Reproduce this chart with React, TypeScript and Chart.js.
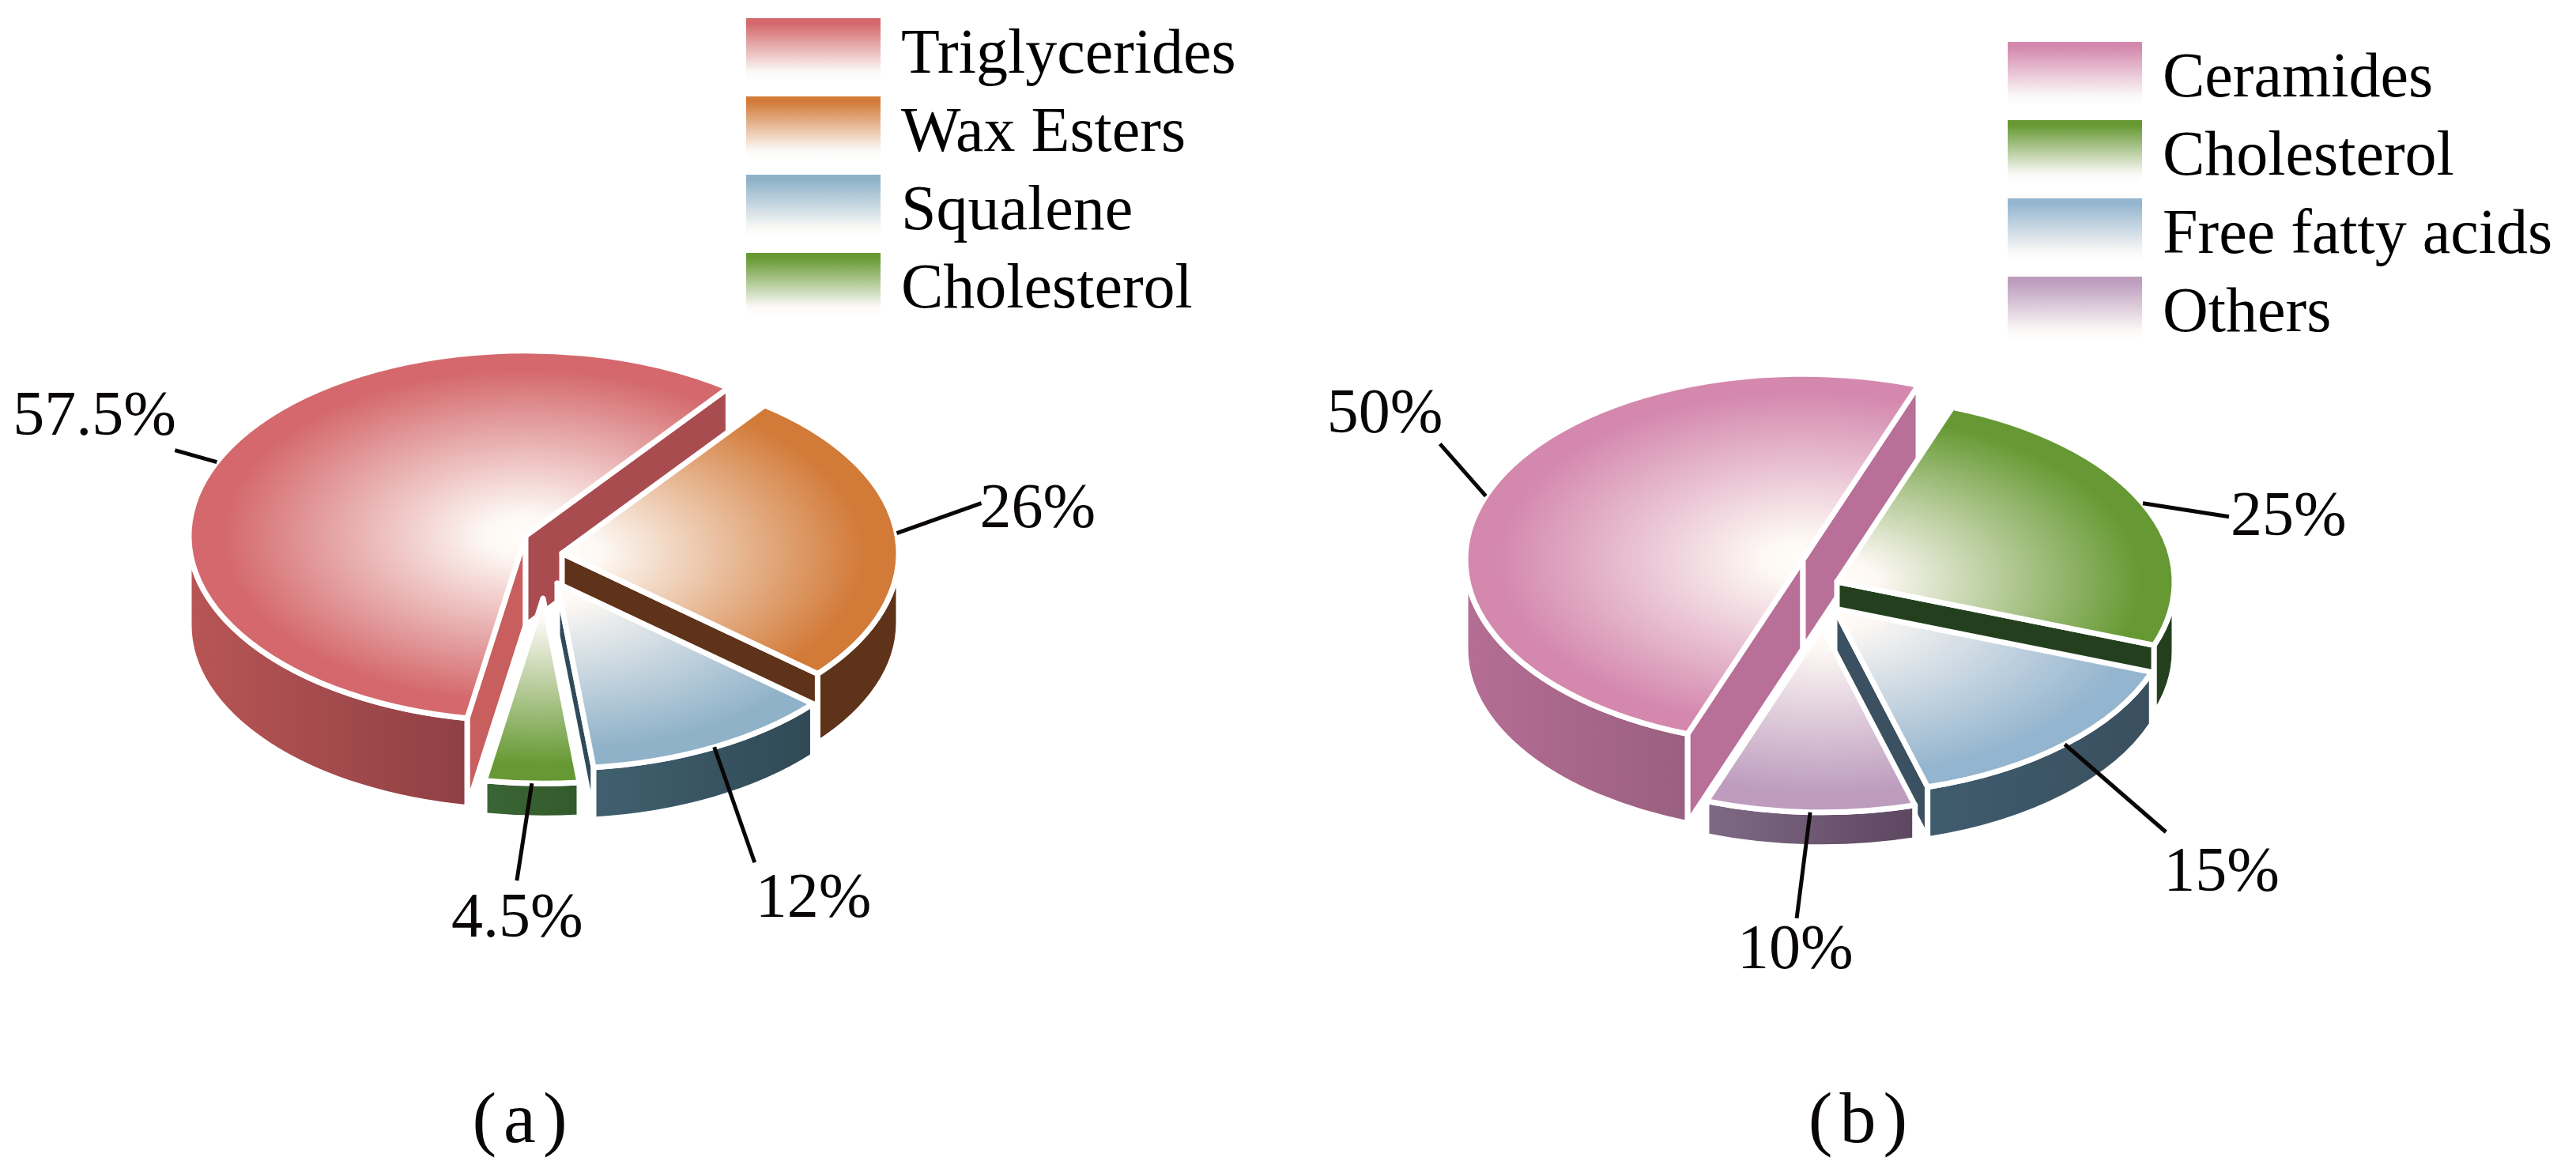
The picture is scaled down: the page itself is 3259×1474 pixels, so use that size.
import React, { useEffect, useRef } from "react";
import { Chart, PieController, registerables } from "chart.js";

// ---- data ----
const lipidLabelsA = ["Triglycerides", "Wax Esters", "Squalene", "Cholesterol"];
const lipidValuesA = [57.5, 26, 12, 4.5];
const lipidLabelsB = ["Ceramides", "Cholesterol", "Free fatty acids", "Others"];
const lipidValuesB = [50, 25, 15, 10];
const captionA = "(a)";
const captionB = "(b)";

// ---- style ----
const FONT = '"Liberation Serif"';
const TILT = 0.55;
const STROKE = 7;
const CANVAS_H = 1474;

const styleA = {
  width: 1630, left: 0, center: [665, 678], radius: 426, rotation: 190, legend: [939, 12], caption: [662, 1445],
  top: ["#d4686c", "#d27a38", "#8fb2c9", "#669933"],
  wallFrom: ["#b85555", "#5f3319", "#41606f", "#3a6535"],
  wallTo: ["#8f4044", "#5f3319", "#304955", "#335a2a"],
  cutStart: ["#c85e5e", "#5f3319", "#2f4b5a", "#3a6535"],
  cutEnd: ["#a84c50", "#5f3319", "#2f4b5a", "#3a6535"],
  shift: [[0, 0], [46, 22], [40, 60], [22, 79]],
  depth: [113, 88, 66, 44],
  leader: [[-53, -15], [107, -38], [51, 146], [-19, 123]],
  text: [[-205, -20], [-2, 30], [1, 69], [-83, 71]],
};
const styleB = {
  width: 1629, left: 1630, center: [651, 708], radius: 427, rotation: 200, legend: [905, 42], caption: [725, 1445],
  top: ["#d488ae", "#669933", "#94b5cf", "#bd9cbe"],
  wallFrom: ["#b56e94", "#243f1e", "#3f5c6e", "#7f6a85"],
  wallTo: ["#9a5f80", "#243f1e", "#3a4f5e", "#5d4660"],
  cutStart: ["#b86f98", "#243f1e", "#3b5060", "#7f6a85"],
  cutEnd: ["#b86f98", "#243f1e", "#3b5060", "#7f6a85"],
  shift: [[0, 0], [43, 28], [40, 62], [24, 85]],
  depth: [113, 88, 66, 44],
  leader: [[-58, -66], [109, 17], [128, 111], [-17, 134]],
  text: [[-143, -15], [2, 23], [-3, 74], [-75, 63]],
};

const TAU = Math.PI * 2;

function visibleRange(s: number, e: number) {
  // angles of the slice whose rim faces the viewer (sin > 0)
  const out: number[][] = [];
  for (let k = -2; k <= 2; k++) {
    const a = Math.max(s, k * TAU);
    const b = Math.min(e, k * TAU + Math.PI);
    if (b > a) out.push([a, b]);
  }
  return out;
}

function faceStroke(ctx: CanvasRenderingContext2D) {
  ctx.strokeStyle = "#fff";
  ctx.lineWidth = STROKE;
  ctx.lineJoin = "round";
  ctx.stroke();
}

function drawSlice(ctx: CanvasRenderingContext2D, arc: any, st: any, i: number) {
  const r = arc.outerRadius;
  const ry = r * TILT;
  const cx = arc.x + st.shift[i][0];
  const cy = arc.y + st.shift[i][1];
  const s = arc.startAngle;
  const e = arc.endAngle;
  const d = st.depth[i];
  const px = (a: number) => cx + r * Math.cos(a);
  const py = (a: number) => cy + ry * Math.sin(a);

  const cut = (a: number, color: string) => {
    ctx.beginPath();
    ctx.moveTo(cx, cy);
    ctx.lineTo(px(a), py(a));
    ctx.lineTo(px(a), py(a) + d);
    ctx.lineTo(cx, cy + d);
    ctx.closePath();
    ctx.fillStyle = color;
    ctx.fill();
    faceStroke(ctx);
  };
  if (Math.cos(s) < 0) cut(s, st.cutStart[i]);
  if (Math.cos(e) > 0) cut(e, st.cutEnd[i]);

  for (const [a, b] of visibleRange(s, e)) {
    ctx.beginPath();
    ctx.ellipse(cx, cy, r, ry, 0, a, b);
    ctx.lineTo(px(b), py(b) + d);
    ctx.ellipse(cx, cy + d, r, ry, 0, b, a, true);
    ctx.closePath();
    const g = ctx.createLinearGradient(Math.min(px(a), px(b)), 0, Math.max(px(a), px(b)), 0);
    g.addColorStop(0, st.wallFrom[i]);
    g.addColorStop(1, st.wallTo[i]);
    ctx.fillStyle = g;
    ctx.fill();
    faceStroke(ctx);
  }

  ctx.beginPath();
  ctx.moveTo(cx, cy);
  ctx.ellipse(cx, cy, r, ry, 0, s, e);
  ctx.closePath();
  ctx.save();
  ctx.translate(cx, cy);
  ctx.scale(1, TILT);
  const g = ctx.createRadialGradient(0, 0, 0, 0, 0, r);
  g.addColorStop(0, "#fffdfa");
  g.addColorStop(0.12, "#fdf8f4");
  g.addColorStop(0.9, st.top[i]);
  g.addColorStop(1, st.top[i]);
  ctx.fillStyle = g;
  ctx.fill();
  ctx.restore();
  faceStroke(ctx);
}

class Pie3DController extends PieController {
  static id = "pie3d";
  static defaults = PieController.defaults;
  static overrides = PieController.overrides;
  draw() {
    const ctx = this.chart.ctx;
    const st = (this.getDataset() as any).sliceStyle;
    this._cachedMeta.data.forEach((arc: any, i: number) => {
      ctx.save();
      drawSlice(ctx, arc, st, i);
      ctx.restore();
    });
  }
}

const placeLegend = {
  id: "placeLegend",
  afterLayout(chart: any, _args: any, opts: any) {
    const l = chart.legend;
    l.left = opts.x;
    l.top = opts.y;
    l.right = chart.width;
    l.bottom = chart.height;
  },
};

const percentLabels = {
  id: "percentLabels",
  afterDatasetsDraw(chart: any, _args: any, opts: any) {
    const ctx = chart.ctx;
    const st = opts.sliceStyle;
    const values = chart.data.datasets[0].data;
    const meta = chart.getDatasetMeta(0);
    ctx.save();
    meta.data.forEach((arc: any, i: number) => {
      const mid = (arc.startAngle + arc.endAngle) / 2;
      const x0 = arc.x + st.shift[i][0] + arc.outerRadius * Math.cos(mid);
      const y0 = arc.y + st.shift[i][1] + arc.outerRadius * TILT * Math.sin(mid);
      const x1 = x0 + st.leader[i][0];
      const y1 = y0 + st.leader[i][1];
      ctx.beginPath();
      ctx.moveTo(x0, y0);
      ctx.lineTo(x1, y1);
      ctx.strokeStyle = "#0a0606";
      ctx.lineWidth = 5;
      ctx.stroke();
      ctx.font = `80px ${FONT}`;
      ctx.fillStyle = "#0a0606";
      ctx.textAlign = "left";
      ctx.textBaseline = "alphabetic";
      ctx.fillText(`${values[i]}%`, x1 + st.text[i][0], y1 + st.text[i][1]);
    });
    ctx.font = `92px ${FONT}`;
    ctx.textAlign = "center";
    (ctx as any).letterSpacing = "9px";
    ctx.fillText(opts.caption, st.caption[0], st.caption[1]);
    ctx.restore();
  },
};

const LEGEND_ROW = 99;
const LEGEND_FADE = 80; // visible height of a swatch: it is white below this
const LEGEND_BOX = 96;
const LEGEND_LINE = 28;
const LEGEND_FONT = 80;

function buildChart(canvas: HTMLCanvasElement, labels: string[], values: number[], caption: string, st: any) {
  const [cx, cy] = st.center;
  const r = st.radius;
  return new Chart(canvas, {
    type: "pie3d" as any,
    data: {
      labels,
      datasets: [{ data: values, borderWidth: 0, hoverBorderWidth: 0, hoverOffset: 0, sliceStyle: st } as any],
    },
    options: {
      animation: false,
      responsive: false,
      maintainAspectRatio: false,
      devicePixelRatio: 1,
      events: [],
      rotation: st.rotation,
      layout: { padding: { left: cx - r, right: st.width - cx - r, top: cy - r, bottom: CANVAS_H - cy - r } },
      plugins: {
        tooltip: { enabled: false },
        title: { display: false },
        placeLegend: { x: st.legend[0], y: st.legend[1] },
        percentLabels: { sliceStyle: st, caption },
        legend: {
          display: true,
          position: "chartArea",
          align: "start",
          labels: {
            boxWidth: 142,
            boxHeight: LEGEND_BOX - LEGEND_LINE,
            padding: LEGEND_ROW - LEGEND_FONT,
            color: "#0a0606",
            font: { family: FONT, size: LEGEND_FONT },
            generateLabels(chart: any) {
              return chart.data.labels.map((text: string, i: number) => {
                const rowY = st.legend[1] + (LEGEND_ROW - LEGEND_FONT) + i * LEGEND_ROW;
                const y = rowY + (LEGEND_FONT - (LEGEND_BOX - LEGEND_LINE)) / 2 - LEGEND_LINE / 2;
                const g = chart.ctx.createLinearGradient(0, y, 0, y + LEGEND_BOX);
                const f = LEGEND_FADE / LEGEND_BOX;
                g.addColorStop(0, st.top[i]);
                g.addColorStop(0.08 * f, st.top[i]);
                g.addColorStop(0.85 * f, "#fbf9f7");
                g.addColorStop(f, "#ffffff");
                g.addColorStop(1, "#ffffff");
                return { text, fillStyle: g, strokeStyle: g, lineWidth: LEGEND_LINE, hidden: false, index: i };
              });
            },
          },
        },
      },
    } as any,
    plugins: [placeLegend, percentLabels] as any,
  });
}

Chart.register(...registerables, Pie3DController as any);

export default function App() {
  const a = useRef<HTMLCanvasElement>(null);
  const b = useRef<HTMLCanvasElement>(null);
  useEffect(() => {
    const ca = buildChart(a.current!, lipidLabelsA, lipidValuesA, captionA, styleA);
    const cb = buildChart(b.current!, lipidLabelsB, lipidValuesB, captionB, styleB);
    return () => {
      ca.destroy();
      cb.destroy();
    };
  }, []);
  return (
    <div style={{ position: "fixed", left: 0, top: 0, width: 3259, height: CANVAS_H, background: "#fff", overflow: "hidden" }}>
      <canvas ref={a} width={styleA.width} height={CANVAS_H} style={{ position: "absolute", left: styleA.left, top: 0 }} />
      <canvas ref={b} width={styleB.width} height={CANVAS_H} style={{ position: "absolute", left: styleB.left, top: 0 }} />
    </div>
  );
}
